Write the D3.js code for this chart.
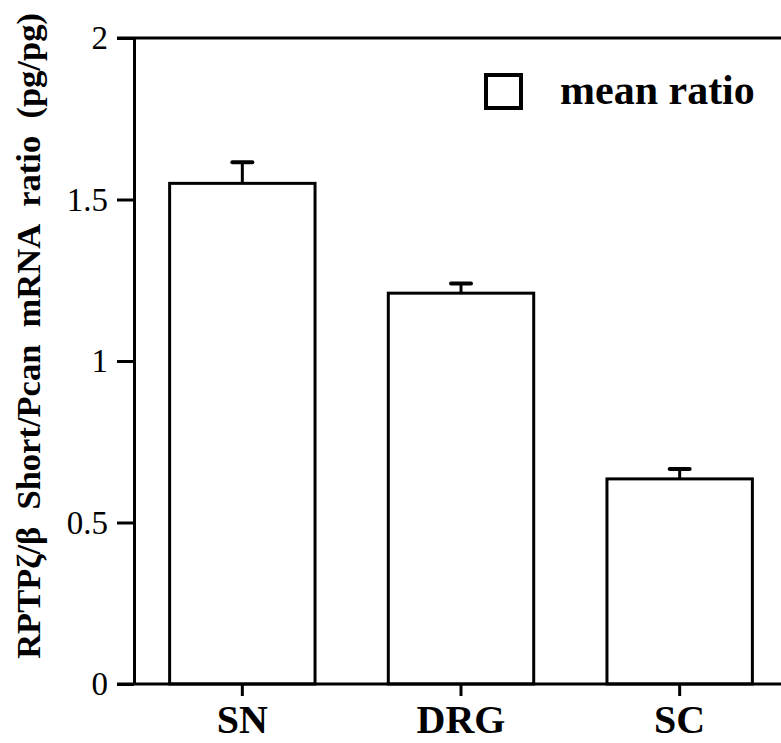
<!DOCTYPE html>
<html>
<head>
<meta charset="utf-8">
<script src="https://cdn.jsdelivr.net/npm/d3@7"></script>
<style>
body { margin: 0; background: #fff; }
svg { display: block; }
</style>
</head>
<body>
<svg width="781" height="743"></svg>
<script>
// data
var categories = ["SN", "DRG", "SC"];
var means = [1.55, 1.21, 0.635];
var errors = [0.065, 0.03, 0.031];
var yTicks = [0, 0.5, 1, 1.5, 2];
var yTickLabels = ["0", "0.5", "1", "1.5", "2"];
var legendLabel = "mean ratio";
var yTitle = "RPTP\u03b6/\u03b2\u00a0\u00a0Short/Pcan\u00a0\u00a0mRNA\u00a0\u00a0ratio\u00a0\u00a0(pg/pg)";

var data = categories.map(function(c, i) { return {cat: c, mean: means[i], err: errors[i]}; });

var svg = d3.select('svg');
var font = "'Liberation Serif', 'Times New Roman', serif";
var lw = 3;

// scales
var ys = d3.scaleLinear().domain([0, 2]).range([684, 38]);
var xs = d3.scaleBand().domain(categories).range([133, 789]).paddingInner(0.335).paddingOuter(0.1675);
var axisX = 134;

// bars
svg.append('g')
.selectAll('rect')
.data(data)
.enter()
.append('rect')
.attr('x', function(d) { return xs(d.cat); })
.attr('y', function(d) { return ys(d.mean); })
.attr('width', xs.bandwidth())
.attr('height', function(d) { return ys(0) - ys(d.mean); })
.attr('fill', '#fff')
.attr('stroke', '#000')
.attr('stroke-width', lw);

// error bars (upper only)
var eb = svg.append('g').attr('stroke', '#000').attr('stroke-width', lw);
eb.selectAll('line.v')
.data(data)
.enter()
.append('line')
.attr('class', 'v')
.attr('x1', function(d) { return xs(d.cat) + xs.bandwidth() / 2; })
.attr('x2', function(d) { return xs(d.cat) + xs.bandwidth() / 2; })
.attr('y1', function(d) { return ys(d.mean); })
.attr('y2', function(d) { return ys(d.mean + d.err); });
eb.selectAll('line.c')
.data(data)
.enter()
.append('line')
.attr('class', 'c')
.attr('stroke-width', 4)
.attr('stroke-linecap', 'round')
.attr('x1', function(d) { return xs(d.cat) + xs.bandwidth() / 2 - 10; })
.attr('x2', function(d) { return xs(d.cat) + xs.bandwidth() / 2 + 10; })
.attr('y1', function(d) { return ys(d.mean + d.err); })
.attr('y2', function(d) { return ys(d.mean + d.err); });

// y axis
var gy = svg.append('g')
.attr('transform', 'translate(' + axisX + ',0)')
.call(d3.axisLeft(ys)
  .tickValues(yTicks)
  .tickFormat(function(d, i) { return yTickLabels[i]; })
  .tickSize(17)
  .tickSizeOuter(0)
  .tickPadding(9));
gy.selectAll('path, line').attr('stroke', '#000').attr('stroke-width', lw);
gy.selectAll('text')
.attr('font-family', font)
.attr('font-size', 33)
.attr('fill', '#000');

// top line and baseline run to the right edge
svg.append('line')
.attr('x1', axisX - 17).attr('x2', 781)
.attr('y1', ys(2)).attr('y2', ys(2))
.attr('stroke', '#000').attr('stroke-width', lw);

// x axis
var gx = svg.append('g')
.attr('transform', 'translate(0,' + ys(0) + ')')
.call(d3.axisBottom(xs).tickSize(12).tickSizeOuter(0));
gx.select('.domain').remove();
gx.selectAll('line').attr('stroke', '#000').attr('stroke-width', lw);
gx.selectAll('text')
.attr('y', 49)
.attr('dy', 0)
.attr('font-family', font)
.attr('font-weight', 'bold')
.attr('font-size', 40)
.attr('fill', '#000');
svg.append('line')
.attr('x1', axisX - 17).attr('x2', 781)
.attr('y1', ys(0)).attr('y2', ys(0))
.attr('stroke', '#000').attr('stroke-width', lw);

// y title
svg.append('text')
.attr('transform', 'translate(40,336) rotate(-90)')
.attr('text-anchor', 'middle')
.attr('font-family', font)
.attr('font-weight', 'bold')
.attr('font-size', 34.5)
.attr('fill', '#000')
.text(yTitle);

// legend
svg.append('rect')
.attr('x', 486).attr('y', 75)
.attr('width', 35).attr('height', 33)
.attr('fill', '#fff')
.attr('stroke', '#000')
.attr('stroke-width', 4);
svg.append('text')
.attr('x', 560).attr('y', 104)
.attr('font-family', font)
.attr('font-weight', 'bold')
.attr('font-size', 42)
.attr('fill', '#000')
.text(legendLabel);
</script>
</body>
</html>
